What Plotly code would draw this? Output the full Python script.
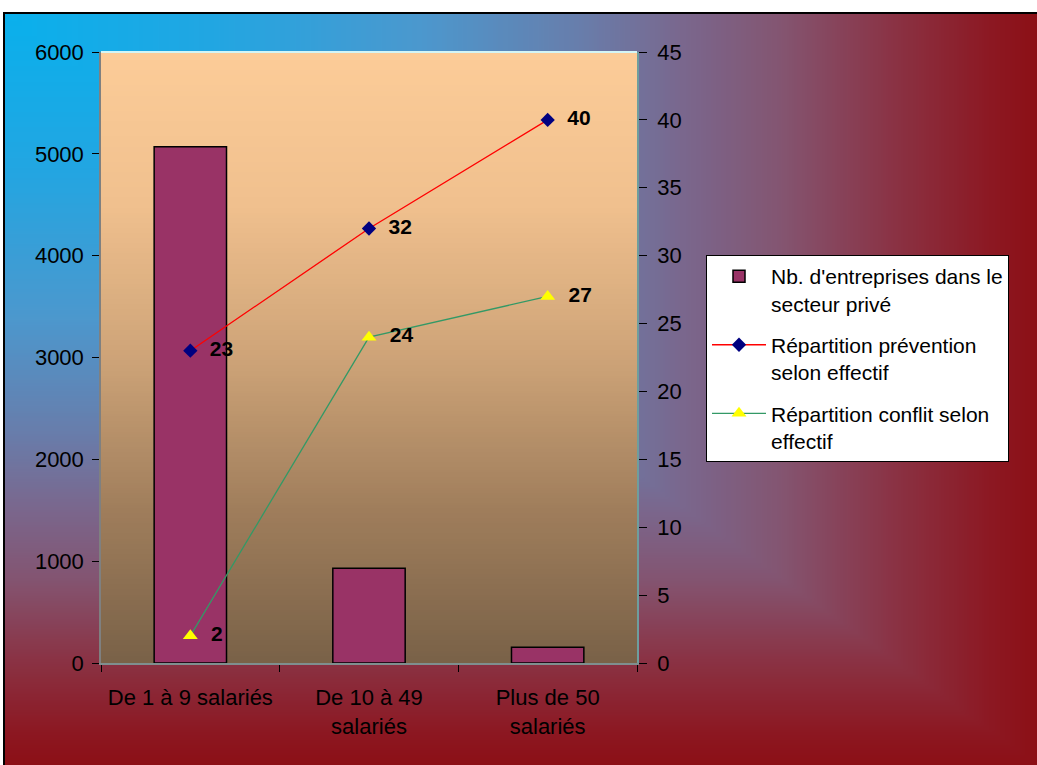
import base64
import struct
import zlib

import plotly.graph_objects as go

# ---------------- data ----------------
categories = ["De 1 à 9 salariés", "De 10 à 49<br>salariés", "Plus de 50<br>salariés"]
entreprises = [5070, 930, 155]
prevention = [23, 32, 40]
conflit = [2, 24, 27]

name_bar = "Nb. d'entreprises dans le<br>secteur privé"
name_prev = "Répartition prévention<br>selon effectif"
name_conf = "Répartition conflit selon<br>effectif"

left_ticks = [0, 1000, 2000, 3000, 4000, 5000, 6000]
right_ticks = [0, 5, 10, 15, 20, 25, 30, 35, 40, 45]

W, H = 1037, 765
FONT = "Liberation Sans, Arial, sans-serif"


# ---------------- gradient images (style only) ----------------
def lerp_stops(stops, t):
    t = max(0.0, min(1.0, t))
    for i in range(len(stops) - 1):
        t0, c0 = stops[i]
        t1, c1 = stops[i + 1]
        if t <= t1:
            f = 0 if t1 == t0 else (t - t0) / (t1 - t0)
            return tuple(int(round(c0[k] + (c1[k] - c0[k]) * f)) for k in range(3))
    return stops[-1][1]


def png_uri(w, h, fn):
    rows = []
    for j in range(h):
        row = bytearray([0])
        for i in range(w):
            row.extend(fn(i / (w - 1), j / (h - 1)))
        rows.append(bytes(row))
    raw = b"".join(rows)

    def chunk(tag, data):
        c = struct.pack(">I", len(data)) + tag + data
        return c + struct.pack(">I", zlib.crc32(tag + data) & 0xFFFFFFFF)

    png = b"\x89PNG\r\n\x1a\n"
    png += chunk(b"IHDR", struct.pack(">IIBBBBB", w, h, 8, 2, 0, 0, 0))
    png += chunk(b"IDAT", zlib.compress(raw, 9))
    png += chunk(b"IEND", b"")
    return "data:image/png;base64," + base64.b64encode(png).decode()


bg_stops = [
    (0.0, (10, 176, 236)),
    (0.2, (34, 166, 226)),
    (0.4, (76, 152, 206)),
    (0.55, (104, 126, 172)),
    (0.65, (122, 104, 142)),
    (0.75, (132, 84, 112)),
    (0.85, (138, 52, 70)),
    (0.95, (140, 24, 34)),
    (1.0, (140, 14, 20)),
]
plot_stops = [
    (0.0, (252, 204, 152)),
    (0.25, (240, 192, 142)),
    (0.5, (206, 164, 120)),
    (0.75, (160, 126, 92)),
    (1.0, (122, 98, 72)),
]

bg_img = png_uri(206, 150, lambda u, v: lerp_stops(bg_stops, max(u, v)))
plot_img = png_uri(4, 120, lambda u, v: lerp_stops(plot_stops, v))

# plot area in pixels
PX0, PX1, PY0, PY1 = 101, 637, 52, 663
xd = [PX0 / W, PX1 / W]
yd = [(H - PY1) / H, (H - PY0) / H]

fig = go.Figure()

fig.add_trace(go.Bar(
    x=categories, y=entreprises, name=name_bar, legendgroup="a",
    marker=dict(color="#993366", line=dict(color="black", width=1.5)),
    width=0.405, yaxis="y",
))
fig.add_trace(go.Scatter(
    x=categories, y=prevention, name=name_prev, legendgroup="b",
    mode="lines+markers+text", yaxis="y2",
    line=dict(color="#ff0000", width=1.3),
    marker=dict(symbol="diamond", size=11, color="#000080"),
    texttemplate="\u00a0\u00a0%{y}", textposition="middle right",
    textfont=dict(family=FONT, size=21, color="black", weight="bold"),
))
fig.add_trace(go.Scatter(
    x=categories, y=conflit, name=name_conf, legendgroup="c",
    mode="lines+markers+text", yaxis="y2",
    line=dict(color="#339966", width=1.3),
    marker=dict(symbol="triangle-up", size=13, color="#ffff00"),
    texttemplate="\u00a0\u00a0%{y}", textposition="middle right",
    textfont=dict(family=FONT, size=21, color="black", weight="bold"),
))

fig.update_layout(
    width=W, height=H,
    margin=dict(l=0, r=0, t=0, b=0, autoexpand=False),
    paper_bgcolor="white",
    plot_bgcolor="rgba(0,0,0,0)",
    font=dict(family=FONT, size=22, color="black"),
    showlegend=True,
    bargap=0.595,
    xaxis=dict(
        domain=xd, type="category", tickson="boundaries",
        ticks="outside", ticklen=7, tickcolor="black", tickwidth=1,
        showline=True, linecolor="#7f8f8f", linewidth=1.5,
        showgrid=False, ticklabelstandoff=14,
        tickfont=dict(family=FONT, size=22),
    ),
    yaxis=dict(
        domain=yd, range=[0, 6000], tickvals=left_ticks,
        ticks="outside", ticklen=7, tickcolor="black",
        showline=True, linecolor="#7f8080", linewidth=1.5,
        showgrid=False, zeroline=False, ticklabelstandoff=4,
        tickfont=dict(family=FONT, size=22),
    ),
    yaxis2=dict(
        overlaying="y", side="right", range=[0, 45], tickvals=right_ticks,
        ticks="outside", ticklen=8, tickcolor="black",
        showline=True, linecolor="#6e9e9e", linewidth=1.5,
        showgrid=False, zeroline=False, ticklabelstandoff=6,
        tickfont=dict(family=FONT, size=22),
    ),
    legend=dict(
        x=706 / W, y=(H - 255) / H, xanchor="left", yanchor="top",
        bgcolor="white", bordercolor="black", borderwidth=1,
        font=dict(family=FONT, size=21, color="black"),
        itemwidth=54, valign="top", tracegroupgap=11,
    ),
    images=[
        dict(source=bg_img, xref="paper", yref="paper",
             x=4 / W, y=1 - 13 / H, sizex=1 - 4 / W + 0.01, sizey=1 - 13 / H + 0.01,
             xanchor="left", yanchor="top", sizing="stretch", layer="below"),
        dict(source=plot_img, xref="paper", yref="paper",
             x=xd[0], y=yd[1], sizex=xd[1] - xd[0], sizey=yd[1] - yd[0],
             xanchor="left", yanchor="top", sizing="stretch", layer="below"),
    ],
    shapes=[
        dict(type="rect", xref="paper", yref="paper",
             x0=4 / W, x1=1.02, y0=-0.02, y1=1 - 13 / H,
             line=dict(color="black", width=2), layer="above"),
        dict(type="line", xref="paper", yref="paper",
             x0=xd[0], x1=xd[1], y0=yd[1], y1=yd[1],
             line=dict(color="#d4f6f6", width=2), layer="above"),
    ],
)

fig.write_html(
    "out.html",
    config={"displayModeBar": False},
    post_script=(
        "document.body.style.margin='0';"
        "document.body.style.overflow='hidden';"
        "document.documentElement.style.overflow='hidden';"
    ),
)
